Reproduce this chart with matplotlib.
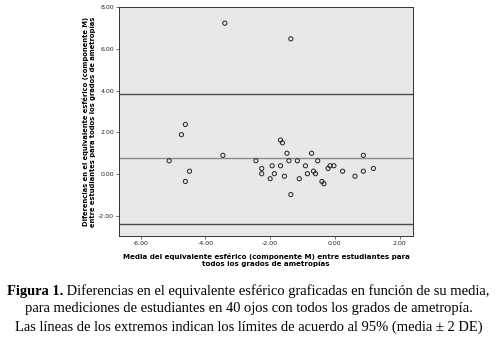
import matplotlib
matplotlib.use("Agg")
import matplotlib.pyplot as plt

# -----------------------------
# Data
# -----------------------------
media = [-3.40, -1.36, -4.62, -4.74, -5.12, -3.46, -4.49, -4.62,
         -2.44, -2.26, -2.26, -2.00, -1.94, -1.87, -1.68, -1.62,
         -1.68, -1.56, -1.48, -1.42, -1.36, -1.16, -1.10, -0.91,
         -0.85, -0.72, -0.66, -0.60, -0.53, -0.40, -0.34, -0.21,
         -0.15, -0.03, 0.24, 0.62, 0.88, 0.88, 1.19]
diferencia = [7.23, 6.48, 2.38, 1.89, 0.64, 0.90, 0.14, -0.35,
              0.64, 0.27, 0.02, -0.22, 0.40, 0.02, 1.63, 1.50,
              0.40, -0.10, 1.00, 0.64, -0.98, 0.64, -0.22, 0.40,
              0.02, 1.00, 0.14, 0.02, 0.64, -0.35, -0.46, 0.27,
              0.40, 0.40, 0.14, -0.10, 0.90, 0.14, 0.27]
mean_diff = 0.76
upper_loa = 3.85
lower_loa = -2.37

xticks = [-6, -4, -2, 0, 2]
yticks = [-2, 0, 2, 4, 6, 8]

caption = ["Diferencias en el equivalente esférico graficadas en función de su media,",
           "para mediciones de estudiantes en 40 ojos con todos los grados de ametropía.",
           "Las líneas de los extremos indican los límites de acuerdo al 95% (media ± 2 DE)"]

# -----------------------------
# Plot
# -----------------------------
fig = plt.figure(figsize=(4.97, 3.38), dpi=100)
ax = fig.add_axes([0.2394, 0.302, 0.592, 0.677])
ax.set_facecolor("#e8e8e8")

ax.axhline(upper_loa, color="#4a4a4a", lw=1.0)
ax.axhline(mean_diff, color="#8c8c8c", lw=1.0)
ax.axhline(lower_loa, color="#4a4a4a", lw=1.0)

ax.scatter(media, diferencia, s=9, facecolors="none", edgecolors="#222222",
           linewidths=0.7, zorder=3)

ax.set_xlim(-6.67, 2.42)
ax.set_ylim(-2.96, 8.0)
ax.set_xticks(xticks)
ax.set_yticks(yticks)
ax.set_xticklabels([f"{v:.2f}" for v in xticks])
ax.set_yticklabels([f"{v:.2f}" for v in yticks])
ax.tick_params(labelsize=4.5, length=2, width=0.5, color="#333333",
               labelcolor="#222222", pad=1.5)
for side in ["left", "bottom", "top", "right"]:
    ax.spines[side].set_color("#333333")
    ax.spines[side].set_linewidth(0.7)

ax.set_xlabel("Media del equivalente esférico (componente M) entre estudiantes para\n"
              "todos los grados de ametropías",
              fontsize=5.1, fontweight="bold", labelpad=5, linespacing=1.1)
ax.set_ylabel("Diferencias en el equivalente esférico (componente M)\n"
              "entre estudiantes para todos los grados de ametropías",
              fontsize=4.9, fontweight="bold", labelpad=1.5, linespacing=1.15)

# caption
cap_y = [0.139, 0.086, 0.033]
fs = 10.45
fig.text(0.5, cap_y[1], caption[1], ha="center", va="center",
         family="Liberation Serif", fontsize=fs)
fig.text(0.5, cap_y[2], caption[2], ha="center", va="center",
         family="Liberation Serif", fontsize=fs)

# first line: bold "Figura 1." followed by regular text, centred together
t1 = fig.text(0.0, cap_y[0], "Figura 1.", ha="left", va="center",
              family="Liberation Serif", fontsize=fs, fontweight="bold")
t2 = fig.text(0.0, cap_y[0], " " + caption[0], ha="left", va="center",
              family="Liberation Serif", fontsize=fs)
fig.canvas.draw()
r = fig.canvas.get_renderer()
w1 = t1.get_window_extent(r).width / fig.bbox.width
w2 = t2.get_window_extent(r).width / fig.bbox.width
x0 = 0.5 - (w1 + w2) / 2
t1.set_x(x0)
t2.set_x(x0 + w1)

fig.savefig("out.png", dpi=100)
